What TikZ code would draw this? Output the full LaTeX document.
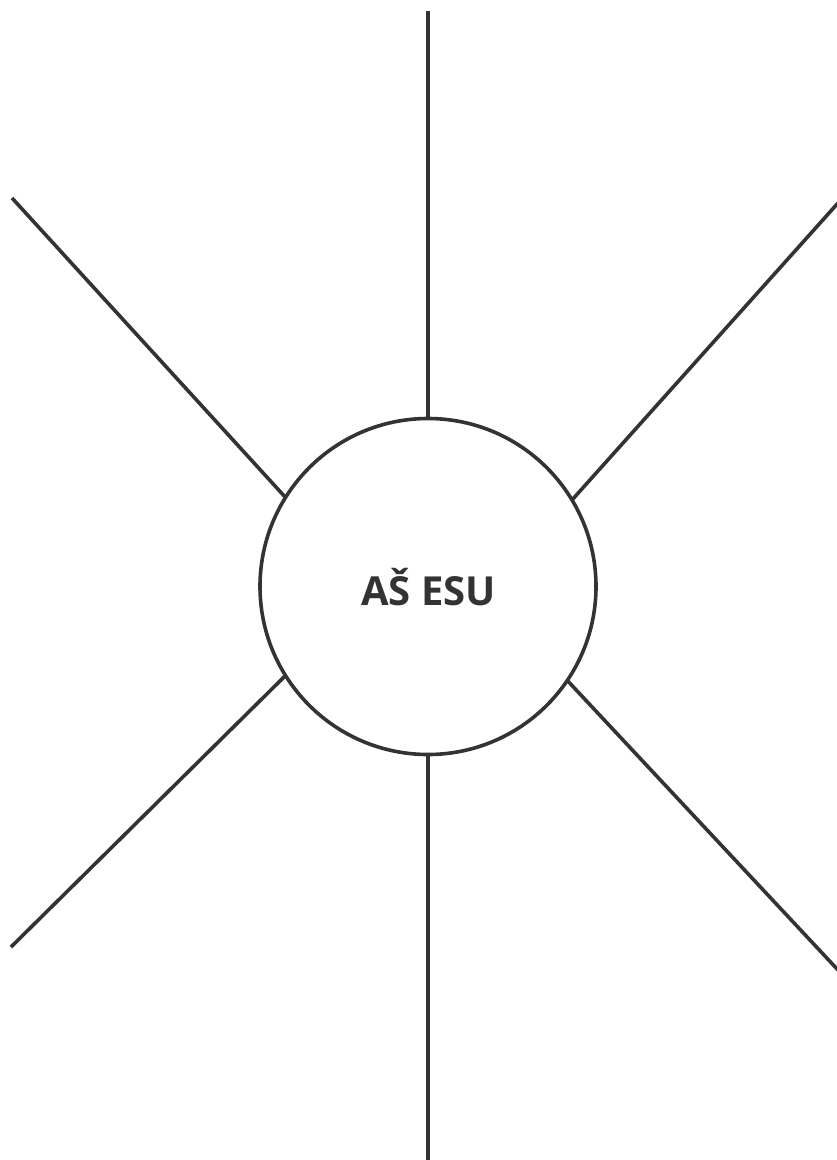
\documentclass[tikz,border=0pt]{standalone}
\usepackage{fontspec}
\setmainfont{Open Sans}
\definecolor{ink}{HTML}{333333}
\begin{document}
\begin{tikzpicture}[x=1pt,y=-1pt,
  spoke/.style={draw=ink,line width=3.6pt},
  hub/.style={circle,draw=ink,line width=3.6pt,minimum size=336pt,inner sep=0pt,outer sep=0pt},
  label/.style={text=ink,font=\fontsize{40}{48}\selectfont\bfseries,anchor=base,inner sep=0pt}]
\useasboundingbox (0,0) rectangle (836,1160);
\node[hub] (c) at (428,586.5) {};
\node[label] (t) at (428.5,605) {AŠ ESU};
\coordinate (nTop) at (428,11);
\coordinate (nBot) at (428,1162);
\coordinate (nUL) at (12,198);
\coordinate (nUR) at (838,203);
\coordinate (nLL) at (11,947);
\coordinate (nLR) at (838,970);
\draw[spoke] (c.north) -- (nTop);
\draw[spoke] (c.south) -- (nBot);
\draw[spoke] (c.148.4) -- (nUL);
\draw[spoke] (c.31.8) -- (nUR);
\draw[spoke] (c.212.9) -- (nLL);
\draw[spoke] (c.326.3) -- (nLR);
\end{tikzpicture}
\end{document}
